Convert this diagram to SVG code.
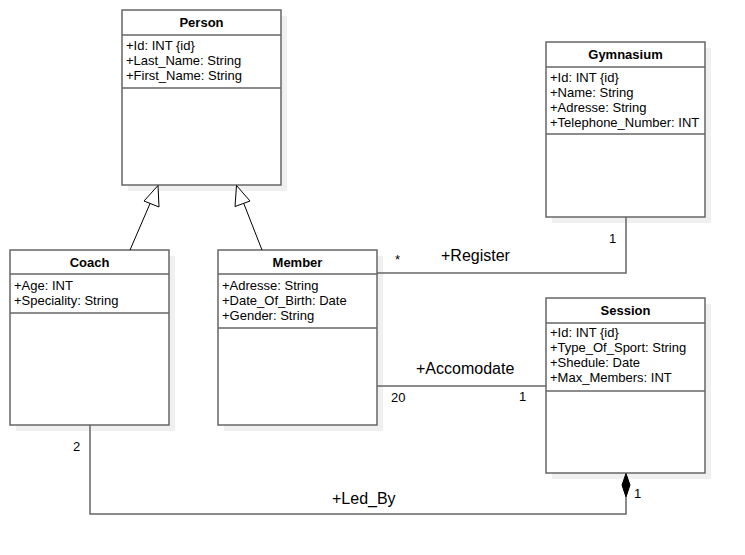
<svg xmlns="http://www.w3.org/2000/svg" width="745" height="555" viewBox="0 0 745 555">
<style>
.sh{fill:#f0f0f0;stroke:none}
.box{fill:#fff;stroke:#666;stroke-width:1.5}
.sep{stroke:#666;stroke-width:1.5}
.t{font-family:"Liberation Sans",Arial,sans-serif;font-size:13px;fill:#000}
.h{font-family:"Liberation Sans",Arial,sans-serif;font-size:13px;font-weight:bold;fill:#000;text-anchor:middle}
.lbl{font-family:"Liberation Sans",Arial,sans-serif;font-size:16px;fill:#000}
.m{font-family:"Liberation Sans",Arial,sans-serif;font-size:13px;fill:#000}
.c{fill:none;stroke:#666;stroke-width:1.5}
.g{fill:none;stroke:#000;stroke-width:1}
.tri{fill:#fff;stroke:#000;stroke-width:1}
.dia{fill:#000;stroke:#000;stroke-width:1}
</style>

<g id="person">
<rect class="sh" x="128" y="16" width="159" height="175"/>
<rect class="box" x="122" y="10" width="159" height="175"/>
<line class="sep" x1="122" y1="35" x2="281" y2="35"/>
<line class="sep" x1="122" y1="88" x2="281" y2="88"/>
<text class="h" x="201.5" y="27">Person</text>
<text class="t" x="126" y="50">+Id: INT {id}</text>
<text class="t" x="126" y="65">+Last_Name: String</text>
<text class="t" x="126" y="80">+First_Name: String</text>
</g>

<g id="gymnasium">
<rect class="sh" x="552" y="48" width="159" height="175"/>
<rect class="box" x="546" y="42" width="159" height="175"/>
<line class="sep" x1="546" y1="67" x2="705" y2="67"/>
<line class="sep" x1="546" y1="134" x2="705" y2="134"/>
<text class="h" x="625.5" y="59">Gymnasium</text>
<text class="t" x="550" y="82">+Id: INT {id}</text>
<text class="t" x="550" y="97">+Name: String</text>
<text class="t" x="550" y="112">+Adresse: String</text>
<text class="t" x="550" y="127">+Telephone_Number: INT</text>
</g>

<g id="coach">
<rect class="sh" x="16" y="256" width="159" height="175"/>
<rect class="box" x="10" y="250" width="159" height="175"/>
<line class="sep" x1="10" y1="274" x2="169" y2="274"/>
<line class="sep" x1="10" y1="313" x2="169" y2="313"/>
<text class="h" x="89.5" y="267">Coach</text>
<text class="t" x="14" y="290">+Age: INT</text>
<text class="t" x="14" y="305">+Speciality: String</text>
</g>

<g id="member">
<rect class="sh" x="224" y="256" width="159" height="175"/>
<rect class="box" x="218" y="250" width="159" height="175"/>
<line class="sep" x1="218" y1="274" x2="377" y2="274"/>
<line class="sep" x1="218" y1="328" x2="377" y2="328"/>
<text class="h" x="297.5" y="267">Member</text>
<text class="t" x="222" y="290">+Adresse: String</text>
<text class="t" x="222" y="305">+Date_Of_Birth: Date</text>
<text class="t" x="222" y="320">+Gender: String</text>
</g>

<g id="session">
<rect class="sh" x="552" y="304" width="159" height="175"/>
<rect class="box" x="546" y="298" width="159" height="175"/>
<line class="sep" x1="546" y1="323" x2="705" y2="323"/>
<line class="sep" x1="546" y1="391" x2="705" y2="391"/>
<text class="h" x="625.5" y="315">Session</text>
<text class="t" x="550" y="337">+Id: INT {id}</text>
<text class="t" x="550" y="352">+Type_Of_Sport: String</text>
<text class="t" x="550" y="367">+Shedule: Date</text>
<text class="t" x="550" y="382">+Max_Members: INT</text>
</g>

<g id="connectors">
<line class="g" x1="130" y1="250" x2="152" y2="199"/>
<polygon class="tri" points="158,185.5 159,207 144,201"/>
<line class="g" x1="262" y1="250" x2="242" y2="199"/>
<polygon class="tri" points="236.5,185.5 250,201 235,206.5"/>
<polyline class="c" points="377,273 626,273 626,217"/>
<line class="c" x1="377" y1="386" x2="546" y2="386"/>
<polyline class="c" points="626,497 626,514 90,514 90,425"/>
<polygon class="dia" points="626,473.5 630,485 626,497 622,485"/>
<text class="m" x="395" y="264">*</text>
<text class="lbl" x="441" y="261">+Register</text>
<text class="m" x="609" y="243">1</text>
<text class="lbl" x="416" y="374">+Accomodate</text>
<text class="m" x="391" y="402">20</text>
<text class="m" x="519" y="401">1</text>
<text class="m" x="73" y="451">2</text>
<text class="lbl" x="332" y="504">+Led_By</text>
<text class="m" x="634" y="498">1</text>
</g>
</svg>
